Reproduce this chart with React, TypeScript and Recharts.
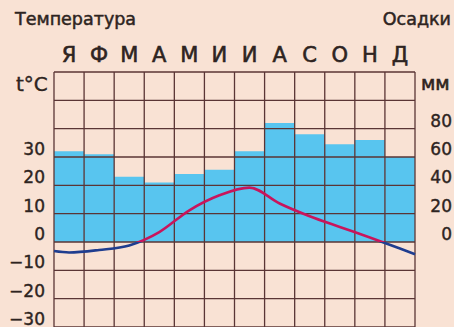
import React from 'react';
import { Bar, ComposedChart, Line, ReferenceLine, XAxis, YAxis } from 'recharts';

// месяцы
const months = ['Я', 'Ф', 'М', 'А', 'М', 'И', 'И', 'А', 'С', 'О', 'Н', 'Д'];
// осадки, мм
const precip = [64, 62, 46, 42, 48, 51, 64, 84, 76, 69, 72, 60];
// температура: позиция по месяцам (0..12) и значение, °C
const tempPos = [0, 0.5, 1.5, 2.5, 3.5, 4.5, 5.5, 6.5, 7.5, 8.5, 9.5, 10.5, 11.5, 12];
const tempVal = [-3.2, -3.7, -2.8, -1.2, 3.5, 11.2, 16.5, 19.2, 13.6, 9.1, 5.3, 1.6, -2.3, -4.3];

const tempTicks = [-30, -20, -10, 0, 10, 20, 30, 40, 50, 60];
const tempLabels = [-30, -20, -10, 0, 10, 20, 30];
const mmTicks = [-60, -40, -20, 0, 20, 40, 60, 80, 100, 120];
const mmLabels = [0, 20, 40, 60, 80];
const monthTicks = [0, 1, 2, 3, 4, 5, 6, 7, 8, 9, 10, 11, 12];

const W = 454;
const H = 327;
const TOP = 72;
const FONT = '"DejaVu Sans", sans-serif';
const INK = '#2e2421';
const GRID = '#5a3535';

const barData = months.map((m, i) => ({ m, p: precip[i] }));
const lineData = tempPos.map((x, i) => ({ x, t: tempVal[i] }));

const zeroOffset = tempTicks[tempTicks.length - 1] / (tempTicks[tempTicks.length - 1] - tempTicks[0]);

const MonthTick = (props: any) => (
  <text x={props.x} y={props.y} textAnchor="middle" fontSize={21} fontFamily={FONT} fill={INK} stroke={INK} strokeWidth={0.6}>
    {props.payload.value}
  </text>
);

const TempTick = (props: any) => {
  if (!tempLabels.includes(props.payload.value)) return null;
  return (
    <text x={props.x} y={props.y - 2} textAnchor="end" fontSize={17} fontFamily={FONT} fill={INK} stroke={INK} strokeWidth={0.4}>
      {props.payload.value === 0 ? '0' : String(props.payload.value).replace('-', '\u2212')}
    </text>
  );
};

const MmTick = (props: any) => {
  if (!mmLabels.includes(props.payload.value)) return null;
  return (
    <text x={props.x + 37} y={props.y - 2} textAnchor="end" fontSize={17} fontFamily={FONT} fill={INK} stroke={INK} strokeWidth={0.4}>
      {props.payload.value}
    </text>
  );
};

export default function App() {
  return (
    <div style={{ position: 'absolute', left: 0, top: 0, width: W, height: H, background: '#f9e2d4', overflow: 'hidden', fontFamily: FONT, color: INK }}>
      <div style={{ position: 'absolute', left: 15, top: 9, fontSize: 17.5, WebkitTextStroke: '0.5px ' + INK }}>Температура</div>
      <div style={{ position: 'absolute', right: 3, top: 9, fontSize: 17.5, WebkitTextStroke: '0.5px ' + INK }}>Осадки</div>
      <div style={{ position: 'absolute', left: 16, top: 72, fontSize: 20, WebkitTextStroke: '0.4px ' + INK }}>t°C</div>
      <div style={{ position: 'absolute', left: 421, top: 72, fontSize: 19, WebkitTextStroke: '0.6px ' + INK }}>мм</div>
      <ComposedChart width={W} height={H} data={barData} barCategoryGap={0} barGap={0}
        margin={{ top: TOP - 30, right: 0, bottom: 0, left: 0 }}>
        <defs>
          <linearGradient id="tempStroke" gradientUnits="userSpaceOnUse" x1={0} y1={TOP} x2={0} y2={H}>
            <stop offset={zeroOffset} stopColor="#c8155c" />
            <stop offset={zeroOffset} stopColor="#1f3d8f" />
          </linearGradient>
        </defs>
        <XAxis xAxisId="m" dataKey="m" orientation="top" height={30} axisLine={false} tickLine={false}
          tickSize={0} tickMargin={10} interval={0} tick={<MonthTick />} />
        <XAxis xAxisId="n" type="number" dataKey="x" domain={[0, 12]} ticks={monthTicks} hide />
        <YAxis yAxisId="t" domain={[tempTicks[0], tempTicks[tempTicks.length - 1]]} ticks={tempTicks} width={54}
          axisLine={false} tickLine={false} tickSize={0} tickMargin={9} interval={0} tick={<TempTick />} />
        <YAxis yAxisId="p" orientation="right" domain={[mmTicks[0], mmTicks[mmTicks.length - 1]]} ticks={mmTicks} width={39}
          axisLine={false} tickLine={false} tickSize={0} tickMargin={0} interval={0} tick={<MmTick />} />
        <Bar xAxisId="m" yAxisId="p" dataKey="p" fill="#58c5ef" isAnimationActive={false} />
        {monthTicks.map((k) => (
          <ReferenceLine key={'v' + k} xAxisId="n" yAxisId="t" x={k} stroke={GRID} strokeWidth={1.3} />
        ))}
        {tempTicks.map((v) => (
          <ReferenceLine key={'h' + v} xAxisId="n" yAxisId="t" y={v} stroke={GRID} strokeWidth={1.3} />
        ))}
        <Line xAxisId="n" yAxisId="t" data={lineData} dataKey="t" type="monotone" stroke="url(#tempStroke)"
          strokeWidth={2.6} dot={false} activeDot={false} isAnimationActive={false} />
      </ComposedChart>
    </div>
  );
}
